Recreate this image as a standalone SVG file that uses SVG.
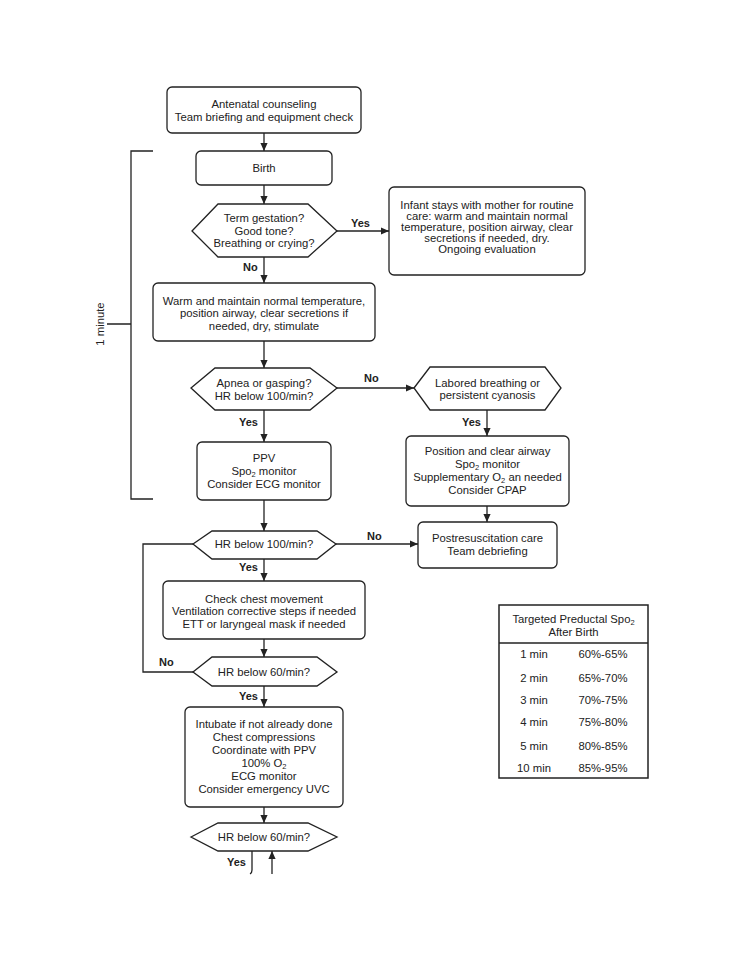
<svg xmlns="http://www.w3.org/2000/svg" width="741" height="960" viewBox="0 0 741 960">
<defs>
<marker id="ah" viewBox="0 0 10 10" refX="10" refY="5" markerWidth="8" markerHeight="8" markerUnits="userSpaceOnUse" orient="auto">
<path d="M0,0.5 L10,5 L0,9.5 Z" fill="#222"/>
</marker>
<style>
.b{fill:#fff;stroke:#222;stroke-width:1.3}
.t{font-family:"Liberation Sans",Arial,sans-serif;font-size:11.3px;fill:#222;text-anchor:middle}
.l{font-family:"Liberation Sans",Arial,sans-serif;font-size:11px;font-weight:bold;fill:#222}
.c{fill:none;stroke:#222;stroke-width:1.3}
.a{fill:none;stroke:#222;stroke-width:1.3;marker-end:url(#ah)}
.s{font-size:7.5px}
</style>
</defs>
<rect width="741" height="960" fill="#fff"/>

<g id="bracket">
<path class="c" d="M153,151 H131 V499 H153 M107,324 H131"/>
<text class="t" transform="translate(104,324) rotate(-90)">1 minute</text>
</g>

<g id="connectors">
<path class="a" d="M264,133 V151"/>
<path class="a" d="M264,185 V204"/>
<path class="a" d="M337,231 H389"/>
<path class="a" d="M264,257 V283"/>
<path class="a" d="M264,341 V368"/>
<path class="a" d="M337,388 H414"/>
<path class="a" d="M487,410 V436"/>
<path class="a" d="M487,506 V522"/>
<path class="a" d="M264,410 V442"/>
<path class="a" d="M264,500 V531"/>
<path class="a" d="M336,544 H418"/>
<path class="c" d="M193,544 H143 V672 H193"/>
<path class="a" d="M264,559 V581"/>
<path class="a" d="M264,639 V657"/>
<path class="a" d="M264,686 V707"/>
<path class="a" d="M264,807 V823"/>
<path class="c" d="M252,851 V870 Q252,873 250,874"/>
<path class="a" d="M272,874 V851"/>
<text class="l" x="351" y="227">Yes</text>
<text class="l" x="243" y="271">No</text>
<text class="l" x="364" y="382">No</text>
<text class="l" x="462" y="426">Yes</text>
<text class="l" x="239" y="426">Yes</text>
<text class="l" x="367" y="540">No</text>
<text class="l" x="159" y="666">No</text>
<text class="l" x="239" y="571">Yes</text>
<text class="l" x="239" y="700">Yes</text>
<text class="l" x="227" y="866">Yes</text>
</g>

<g id="antenatal">
<rect class="b" x="167" y="87" width="194" height="46" rx="5"/>
<text class="t" x="264" y="108">Antenatal counseling</text>
<text class="t" x="264" y="121">Team briefing and equipment check</text>
</g>

<g id="birth">
<rect class="b" x="196" y="151" width="136" height="34" rx="5"/>
<text class="t" x="264" y="172">Birth</text>
</g>

<g id="term">
<polygon class="b" points="192,231 218,204 308,204 337,231 308,257 218,257"/>
<text class="t" x="264" y="222">Term gestation?</text>
<text class="t" x="264" y="235">Good tone?</text>
<text class="t" x="264" y="247">Breathing or crying?</text>
</g>

<g id="routine">
<rect class="b" x="389" y="187" width="196" height="88" rx="5"/>
<text class="t" x="487" y="209">Infant stays with mother for routine</text>
<text class="t" x="487" y="220">care: warm and maintain normal</text>
<text class="t" x="487" y="231">temperature, position airway, clear</text>
<text class="t" x="487" y="241.5">secretions if needed, dry.</text>
<text class="t" x="487" y="252.5">Ongoing evaluation</text>
</g>

<g id="warm">
<rect class="b" x="153" y="283" width="222" height="58" rx="5"/>
<text class="t" x="264" y="305">Warm and maintain normal temperature,</text>
<text class="t" x="264" y="317">position airway, clear secretions if</text>
<text class="t" x="264" y="330">needed, dry, stimulate</text>
</g>

<g id="apnea">
<polygon class="b" points="191,388 215,368 310,368 337,388 310,410 215,410"/>
<text class="t" x="264" y="387">Apnea or gasping?</text>
<text class="t" x="264" y="400">HR below 100/min?</text>
</g>

<g id="labored">
<polygon class="b" points="414,388 430,367 545,367 561,388 545,410 430,410"/>
<text class="t" x="487.5" y="387">Labored breathing or</text>
<text class="t" x="487.5" y="399">persistent cyanosis</text>
</g>

<g id="position">
<rect class="b" x="406" y="436" width="163" height="70" rx="5"/>
<text class="t" x="487.5" y="455">Position and clear airway</text>
<text class="t" x="487.5" y="468">Spo<tspan class="s" dy="2">2</tspan><tspan dy="-2"> monitor</tspan></text>
<text class="t" x="487.5" y="481">Supplementary O<tspan class="s" dy="2">2</tspan><tspan dy="-2"> an needed</tspan></text>
<text class="t" x="487.5" y="493.5">Consider CPAP</text>
</g>

<g id="postresus">
<rect class="b" x="418" y="522" width="139" height="46" rx="5"/>
<text class="t" x="487.5" y="542">Postresuscitation care</text>
<text class="t" x="487.5" y="555">Team debriefing</text>
</g>

<g id="ppv">
<rect class="b" x="197" y="442" width="134" height="58" rx="5"/>
<text class="t" x="264" y="462">PPV</text>
<text class="t" x="264" y="475">Spo<tspan class="s" dy="2">2</tspan><tspan dy="-2"> monitor</tspan></text>
<text class="t" x="264" y="487.5">Consider ECG monitor</text>
</g>

<g id="hr100">
<polygon class="b" points="193,544 212,531 317,531 336,544 317,559 212,559"/>
<text class="t" x="264" y="548">HR below 100/min?</text>
</g>

<g id="chest">
<rect class="b" x="163" y="581" width="202" height="58" rx="5"/>
<text class="t" x="264" y="603">Check chest movement</text>
<text class="t" x="264" y="615">Ventilation corrective steps if needed</text>
<text class="t" x="264" y="628">ETT or laryngeal mask if needed</text>
</g>

<g id="hr60a">
<polygon class="b" points="193,672 212,657 317,657 337,672 317,686 212,686"/>
<text class="t" x="264" y="676">HR below 60/min?</text>
</g>

<g id="intubate">
<rect class="b" x="185" y="707" width="158" height="100" rx="5"/>
<text class="t" x="264" y="728">Intubate if not already done</text>
<text class="t" x="264" y="741">Chest compressions</text>
<text class="t" x="264" y="754">Coordinate with PPV</text>
<text class="t" x="264" y="767">100% O<tspan class="s" dy="2">2</tspan></text>
<text class="t" x="264" y="780">ECG monitor</text>
<text class="t" x="264" y="793">Consider emergency UVC</text>
</g>

<g id="hr60b">
<polygon class="b" points="191,837 218,823 308,823 337,837 308,851 218,851"/>
<text class="t" x="264" y="841">HR below 60/min?</text>
</g>

<g id="table">
<rect x="499" y="605" width="149" height="173" fill="#fff" stroke="#222" stroke-width="1.5"/>
<path d="M499,643 H648" stroke="#222" stroke-width="1.3"/>
<text class="t" x="573.5" y="623">Targeted Preductal Spo<tspan class="s" dy="2">2</tspan></text>
<text class="t" x="573.5" y="636">After Birth</text>
<text class="t" x="534" y="658">1 min</text><text class="t" x="603" y="658">60%-65%</text>
<text class="t" x="534" y="682">2 min</text><text class="t" x="603" y="682">65%-70%</text>
<text class="t" x="534" y="704">3 min</text><text class="t" x="603" y="704">70%-75%</text>
<text class="t" x="534" y="726">4 min</text><text class="t" x="603" y="726">75%-80%</text>
<text class="t" x="534" y="750">5 min</text><text class="t" x="603" y="750">80%-85%</text>
<text class="t" x="534" y="772">10 min</text><text class="t" x="603" y="772">85%-95%</text>
</g>
</svg>
